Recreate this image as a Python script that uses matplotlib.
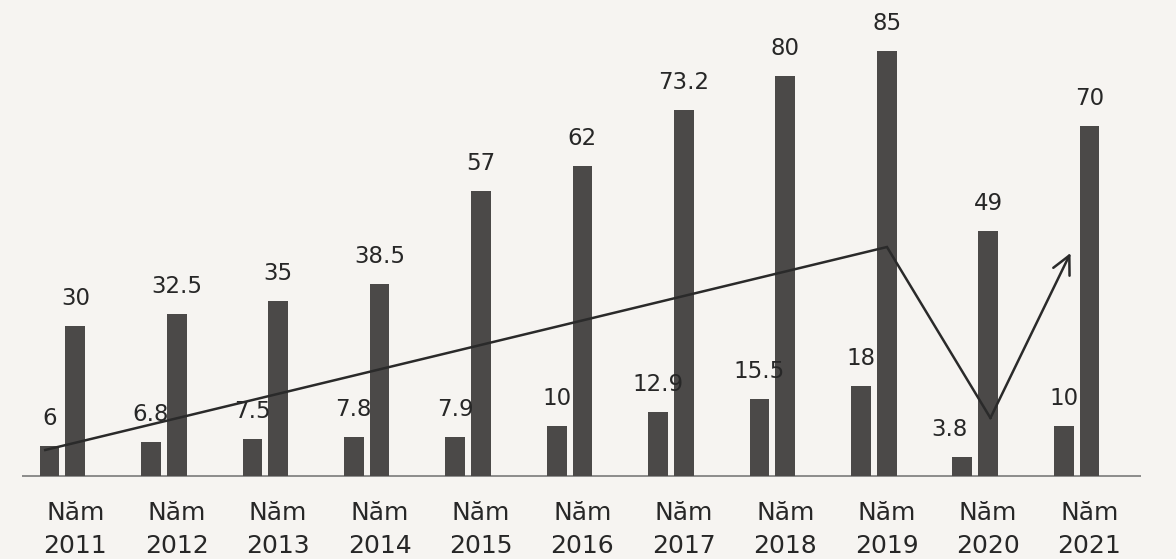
import matplotlib
matplotlib.use("Agg")
import matplotlib.pyplot as plt
import numpy as np

# ---- data ----
years = ["2011", "2012", "2013", "2014", "2015", "2016", "2017", "2018", "2019", "2020", "2021"]
small_values = [6, 6.8, 7.5, 7.8, 7.9, 10, 12.9, 15.5, 18, 3.8, 10]
large_values = [30, 32.5, 35, 38.5, 57, 62, 73.2, 80, 85, 49, 70]
small_labels = ["6", "6.8", "7.5", "7.8", "7.9", "10", "12.9", "15.5", "18", "3.8", "10"]
large_labels = ["30", "32.5", "35", "38.5", "57", "62", "73.2", "80", "85", "49", "70"]
# hand-drawn trend arrow (data coordinates: group index, value)
trend_x = [-0.17, 8.13, 9.15, 9.94]
trend_y = [5.2, 45.8, 11.6, 44.6]

BAR = "#4b4948"
TXT = "#272727"
BG = "#f6f4f1"

plt.rcParams['font.family'] = ['DejaVu Sans']

fig = plt.figure(figsize=(11.76, 5.59), dpi=100, facecolor=BG)
ax = fig.add_axes([0, 0, 1, 1])
ax.set_facecolor(BG)
ax.set_xlim(-0.616, 10.98)
ax.set_ylim(-16.6, 95.2)
ax.axis("off")

x = np.arange(len(years))
off = 0.127
w = 0.195
ax.bar(x - off, small_values, width=w, color=BAR, zorder=2)
ax.bar(x + off, large_values, width=w, color=BAR, zorder=2)

ax.hlines(0, -0.40, 10.63, color="#7a7a7a", lw=1.2, zorder=1)

small_nudge = {9: -13}
for i in range(len(years)):
    ax.annotate(small_labels[i], (x[i] - off, small_values[i]),
                xytext=(small_nudge.get(i, 0) * 0.72, 15), textcoords="offset points",
                ha="center", va="baseline", fontsize=16.5, color=TXT, zorder=3)
    ax.annotate(large_labels[i], (x[i] + off, large_values[i]),
                xytext=(0, 15), textcoords="offset points",
                ha="center", va="baseline", fontsize=16.5, color=TXT, zorder=3)
    ax.text(x[i] + off, -8.8, "Năm", ha="center", va="baseline",
            fontsize=18, color=TXT)
    ax.text(x[i] + off, -15.4, years[i], ha="center", va="baseline",
            fontsize=18, color=TXT)

ax.plot(trend_x[:-1], trend_y[:-1], color="#2a2a2a", lw=1.8, zorder=4,
        solid_joinstyle="miter")
ax.annotate("", xy=(trend_x[-1], trend_y[-1]), xytext=(trend_x[-2], trend_y[-2]),
            arrowprops=dict(arrowstyle="->,head_length=1.3,head_width=0.65",
                            color="#2a2a2a", lw=1.8, shrinkA=0, shrinkB=0),
            zorder=4)

fig.savefig("out.png", dpi=100, facecolor=BG)
